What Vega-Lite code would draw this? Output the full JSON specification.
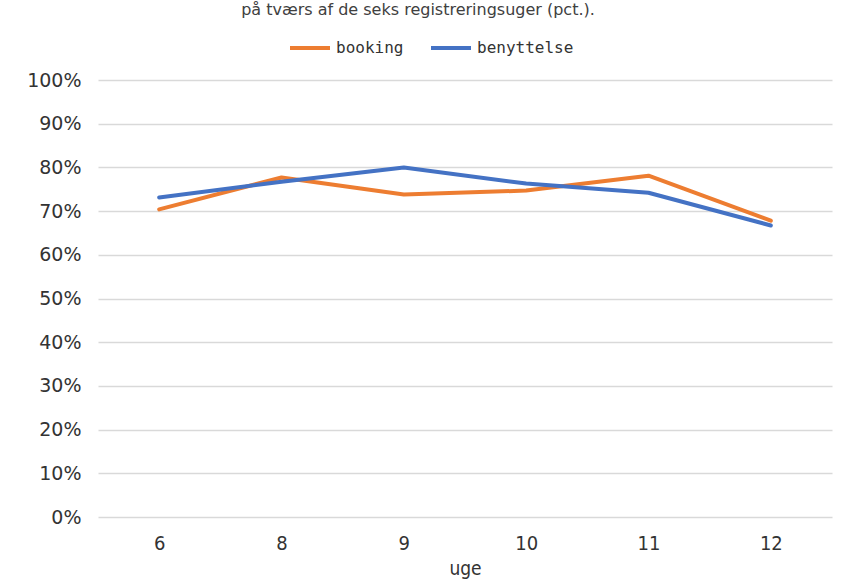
{
  "$schema": "https://vega.github.io/schema/vega-lite/v6.json",
  "width": 734,
  "height": 437,
  "autosize": {"type": "none"},
  "padding": {"left": 98, "top": 80, "right": 9, "bottom": 69},
  "background": "white",
  "title": {
    "text": "på tværs af de seks registreringsuger (pct.).",
    "fontSize": 16,
    "font": "DejaVu Sans",
    "fontWeight": "normal",
    "color": "#404040",
    "anchor": "middle",
    "frame": "group",
    "offset": 8,
    "dx": -47
  },
  "data": {
    "values": [
      {"uge": 6, "serie": "booking", "andel": 0.704},
      {"uge": 8, "serie": "booking", "andel": 0.777},
      {"uge": 9, "serie": "booking", "andel": 0.738},
      {"uge": 10, "serie": "booking", "andel": 0.747},
      {"uge": 11, "serie": "booking", "andel": 0.781},
      {"uge": 12, "serie": "booking", "andel": 0.678},
      {"uge": 6, "serie": "benyttelse", "andel": 0.731},
      {"uge": 8, "serie": "benyttelse", "andel": 0.767},
      {"uge": 9, "serie": "benyttelse", "andel": 0.800},
      {"uge": 10, "serie": "benyttelse", "andel": 0.763},
      {"uge": 11, "serie": "benyttelse", "andel": 0.742},
      {"uge": 12, "serie": "benyttelse", "andel": 0.667}
    ]
  },
  "mark": {"type": "line", "strokeWidth": 4, "strokeCap": "round", "strokeJoin": "round"},
  "encoding": {
    "x": {
      "field": "uge",
      "type": "ordinal",
      "sort": [6, 8, 9, 10, 11, 12],
      "scale": {"type": "point", "padding": 0.5},
      "axis": {
        "labelAngle": 0,
        "title": "uge",
        "tickSize": 0,
        "domain": false,
        "grid": false,
        "labelPadding": 16,
        "labelFont": "DejaVu Sans Condensed",
        "labelFontSize": 20,
        "labelColor": "#333333",
        "titleFont": "DejaVu Sans Condensed",
        "titleFontSize": 19,
        "titleFontWeight": "normal",
        "titleColor": "#333333",
        "titlePadding": 6
      }
    },
    "y": {
      "field": "andel",
      "type": "quantitative",
      "scale": {"domain": [0, 1], "nice": false},
      "axis": {
        "format": ".0%",
        "values": [0, 0.1, 0.2, 0.3, 0.4, 0.5, 0.6, 0.7, 0.8, 0.9, 1],
        "title": null,
        "domain": false,
        "tickSize": 0,
        "labelPadding": 17,
        "labelFont": "DejaVu Sans",
        "labelFontSize": 19,
        "labelColor": "#333333",
        "gridColor": "#d9d9d9",
        "gridWidth": 1.5
      }
    },
    "color": {
      "field": "serie",
      "type": "nominal",
      "scale": {"domain": ["booking", "benyttelse"], "range": ["#ED7D31", "#4472C4"]},
      "legend": {
        "title": null,
        "orient": "none",
        "direction": "horizontal",
        "legendX": 190,
        "legendY": -54,
        "symbolType": "stroke",
        "symbolSize": 1600,
        "symbolStrokeWidth": 4,
        "labelFont": "DejaVu Sans Mono",
        "labelFontSize": 16,
        "labelColor": "#333333",
        "labelOffset": 4,
        "columnPadding": 19
      }
    }
  },
  "config": {"view": {"stroke": null}}
}
